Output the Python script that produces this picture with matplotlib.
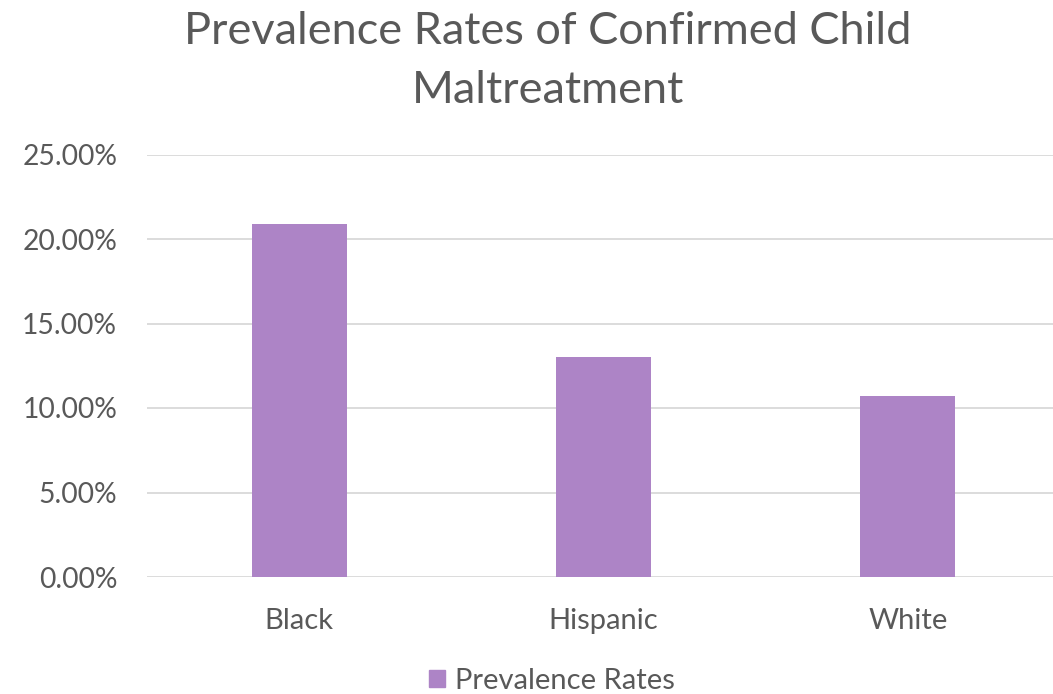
import matplotlib
matplotlib.use("Agg")
import matplotlib.pyplot as plt
from matplotlib.ticker import FuncFormatter, MultipleLocator
from matplotlib.patches import Patch

categories = ["Black", "Hispanic", "White"]
prevalence = [20.9, 13.0, 10.7]  # percent
series_name = "Prevalence Rates"
title = "Prevalence Rates of Confirmed Child\nMaltreatment"

plt.rcParams["font.family"] = ["Lato", "DejaVu Sans"]
text_color = "#595959"
bar_color = "#AD84C6"
grid_color = "#D9D9D9"

W, H = 1053, 694
fig = plt.figure(figsize=(W / 100, H / 100), dpi=100)

left, right, bottom, top = 147, 1060, 577, 154.5
ax = fig.add_axes([left / W, 1 - bottom / H, (right - left) / W, (bottom - top) / H])

x = range(len(categories))
ax.bar(x, prevalence, width=0.312, color=bar_color, zorder=3)

ax.set_xlim(-0.5, len(categories) - 0.5)
ax.set_ylim(0, 25)
ax.yaxis.set_major_locator(MultipleLocator(5))
ax.yaxis.set_major_formatter(FuncFormatter(lambda v, _: f"{v:.2f}%"))
ax.grid(axis="y", color=grid_color, linewidth=1.3, zorder=0)
ax.set_axisbelow(True)
for s in ax.spines.values():
    s.set_visible(False)
ax.tick_params(axis="both", length=0, colors=text_color)
ax.tick_params(axis="y", pad=21.5, labelsize=20.3)
ax.tick_params(axis="x", pad=22, labelsize=21)
ax.set_xticks(list(x))
ax.set_xticklabels(categories)

fig.text(548 / W, 1 - 61 / H, title, ha="center", va="center",
         fontsize=32.5, color=text_color, linespacing=1.55)

fig.legend(handles=[Patch(color=bar_color, label=series_name)],
           loc="center", bbox_to_anchor=(552 / W, 1 - 681 / H),
           frameon=False, fontsize=21, labelcolor=text_color,
           handlelength=0.55, handleheight=0.55, handletextpad=0.35)

fig.savefig("out.png", dpi=100)
